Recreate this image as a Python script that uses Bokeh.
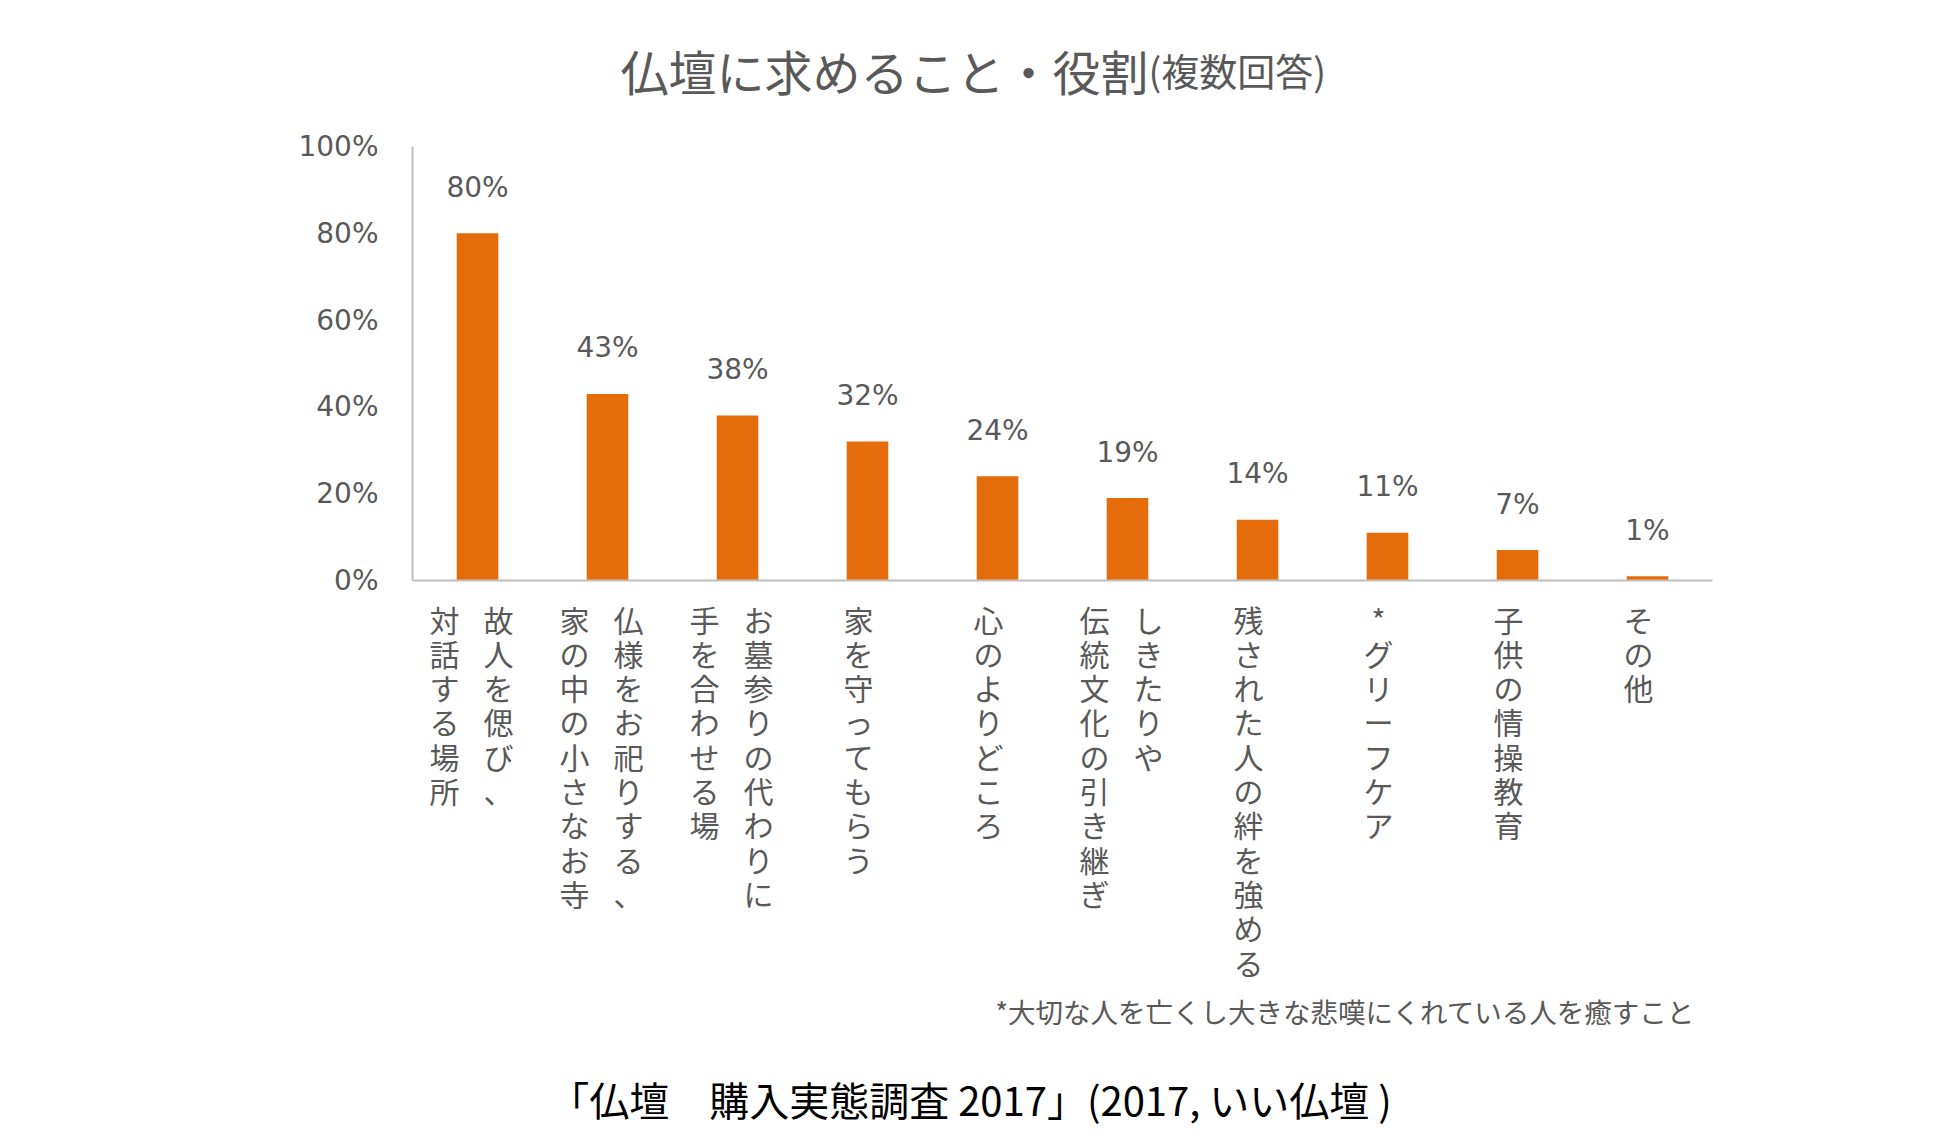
from bokeh.plotting import figure
from bokeh.models import ColumnDataSource, Range1d, FixedTicker
from bokeh.core.properties import value
from bokeh.embed import file_html
from bokeh.resources import INLINE

# ---------------- data ----------------
label_columns = [
    ["故人を偲び、", "対話する場所"],
    ["仏様をお祀りする、", "家の中の小さなお寺"],
    ["お墓参りの代わりに", "手を合わせる場"],
    ["家を守ってもらう"],
    ["心のよりどころ"],
    ["しきたりや", "伝統文化の引き継ぎ"],
    ["残された人の絆を強める"],
    ["*グリーフケア"],
    ["子供の情操教育"],
    ["その他"],
]
values = [80, 43, 38, 32, 24, 19, 14, 11, 7, 1]
y_ticks = [0, 20, 40, 60, 80, 100]
title_main = "仏壇に求めること・役割"
title_sub = "(複数回答)"
footnote = "*大切な人を亡くし大きな悲嘆にくれている人を癒すこと"
source_text = "「仏壇　購入実態調査 2017」(2017, いい仏壇 )"

# ---------------- styles / layout ----------------
BAR = "#E46C0A"
GRAY = "#595959"
AXIS = "#BFBFBF"
JP = "Noto Sans CJK JP"
NUM = "DejaVu Sans"

W, H = 1934, 1132
FL, FB = 150, 4                  # frame left border / bottom border (canvas px)
PX_X, PX_Y = 130.0, 4.34         # pixels per category / per percent
X0, Y0 = 412, 580                # canvas position of data origin
n = len(values)
x_range = Range1d(-(X0 - FL) / PX_X, (W - X0) / PX_X)
y_range = Range1d(-((H - FB) - Y0) / PX_Y, Y0 / PX_Y)

p = figure(width=W, height=H, output_backend="svg", toolbar_location=None,
           x_range=x_range, y_range=y_range,
           min_border_left=FL, min_border_right=0, min_border_top=0, min_border_bottom=FB)
p.outline_line_color = None
p.grid.grid_line_color = None
p.background_fill_color = "white"
p.border_fill_color = "white"

def dx(px):   # page pixel -> data x
    return (px - 8 - X0) / PX_X

def dy(py):   # page pixel -> data y
    return (Y0 - (py - 8)) / PX_Y

xs = [i + 0.5 for i in range(n)]
src = ColumnDataSource(dict(x=xs, top=values, lab=[f"{v}%" for v in values],
                            ly=[v + 46 / PX_Y for v in values]))
p.vbar(x="x", top="top", width=0.32, bottom=0, source=src, fill_color=BAR, line_color=None)

# axes (library axes, pinned to the data origin)
p.yaxis.fixed_location = 0
p.yaxis.bounds = (0, 100)
p.yaxis.ticker = FixedTicker(ticks=y_ticks)
p.yaxis.major_label_overrides = {t: f"{t}%" for t in y_ticks}
p.yaxis.major_tick_line_color = None
p.yaxis.minor_tick_line_color = None
p.yaxis.axis_line_color = AXIS
p.yaxis.axis_line_width = 2
p.yaxis.major_label_text_font = NUM
p.yaxis.major_label_text_font_size = "28px"
p.yaxis.major_label_text_color = GRAY
p.yaxis.major_label_standoff = 28

p.xaxis.fixed_location = 0
p.xaxis.bounds = (0, n)
p.xaxis.ticker = FixedTicker(ticks=[])
p.xaxis.major_tick_line_color = None
p.xaxis.minor_tick_line_color = None
p.xaxis.axis_line_color = AXIS
p.xaxis.axis_line_width = 2

# value labels
p.text(x="x", y="ly", text="lab", source=src, text_align="center", text_baseline="middle",
       text_font=value(NUM), text_font_size="28px", text_color=GRAY)

# vertical category labels (one text column per line of vertical writing)
cx, ct = [], []
for i, cols in enumerate(label_columns):
    offs = [-9] if len(cols) == 1 else [21, -33]
    for c, o in zip(cols, offs):
        cx.append(xs[i] + o / PX_X)
        ct.append("\n".join(list(c)))
csrc = ColumnDataSource(dict(x=cx, text=ct, y=[dy(604)] * len(cx)))
p.text(x="x", y="y", text="text", source=csrc, text_align="center", text_baseline="top",
       text_line_height=0.78, text_font=value(JP), text_font_size="30px", text_color=GRAY)

# titles and notes
p.text(x=[dx(1156)], y=[dy(77)], text=[title_main], text_align="right", text_baseline="alphabetic",
       text_font=value(JP), text_font_size="48px", text_color=GRAY)
p.text(x=[dx(1156)], y=[dy(77)], text=[title_sub], text_align="left", text_baseline="alphabetic",
       text_font=value(JP), text_font_size="38px", text_color=GRAY)
p.text(x=[dx(1703)], y=[dy(1018)], text=[footnote], text_align="right", text_baseline="middle",
       text_font=value(JP), text_font_size="27.5px", text_color=GRAY)
p.text(x=[dx(978)], y=[dy(1106)], text=[source_text], text_align="center", text_baseline="middle",
       text_font=value(JP), text_font_size="40px", text_color="black")

open("out.html", "w").write(file_html(p, INLINE))
